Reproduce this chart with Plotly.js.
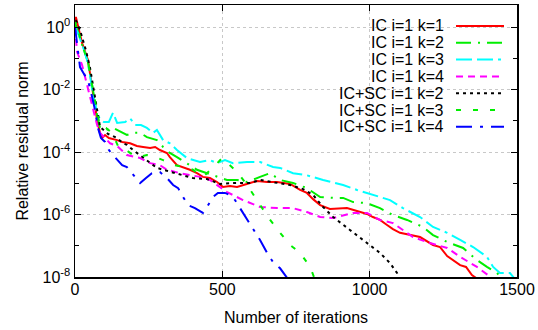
<!DOCTYPE html>
<html>
<head>
<meta charset="utf-8">
<script src="https://cdn.plot.ly/plotly-3.0.1.min.js"></script>
<style>
html,body{margin:0;padding:0;background:#fff;}
#chart{width:538px;height:330px;}
</style>
</head>
<body>
<div id="chart"></div>
<script>
// ---- data ----
const seriesNames = ["IC i=1 k=1","IC i=1 k=2","IC i=1 k=3","IC i=1 k=4","IC+SC i=1 k=2","IC+SC i=1 k=3","IC+SC i=1 k=4"];

const icK1Iter = [0,3,24,44,58,75,85,92,102,115,143,160,187,210,231,255,272,288,312,322,346,367,390,414,434,458,482,502,526,550,570,594,618,652,686,730,764,787,808,832,865,899,923,957,991,1011,1035,1059,1079,1103,1147,1171,1215,1239,1263,1283,1307,1327,1347,1361];
const icK1Val  = [1.0,2.1,0.31,0.088,0.012,1.06e-3,4.1e-4,2.8e-4,3.5e-4,2.8e-4,2.4e-4,2.1e-4,1.9e-4,1.56e-4,1.45e-4,1.34e-4,1.45e-4,1.16e-4,9.3e-5,6.9e-5,3.8e-5,3.3e-5,2.7e-5,2.1e-5,1.6e-5,1.47e-5,1.1e-5,7.6e-6,8.2e-6,7.6e-6,8.8e-6,1.02e-5,1.18e-5,1.1e-5,1.1e-5,9.5e-6,6.1e-6,4.9e-6,3.1e-6,2.0e-6,1.5e-6,1.6e-6,1.6e-6,1.3e-6,1.04e-6,8.3e-7,6.7e-7,4.6e-7,3.4e-7,2.6e-7,2.05e-7,1.9e-7,1.06e-7,9.1e-8,4.7e-8,3.5e-8,2.4e-8,2.1e-8,1.16e-8,9.3e-9];

const icK2Iter = [0,3,24,44,61,75,85,105,129,153,176,197,221,244,278,299,322,346,380,414,448,482,516,550,584,628,662,696,740,787,832,876,910,944,991,1035,1079,1127,1181,1215,1263,1317,1364,1398,1432,1449];
const icK2Val  = [1.0,1.16,0.27,0.076,9.6e-3,1.5e-3,5.9e-4,5.1e-4,5.9e-4,4.4e-4,3.5e-4,4.1e-4,4.1e-4,3.0e-4,2.4e-4,1.45e-4,9.3e-5,6.9e-5,4.4e-5,2.7e-5,2.1e-5,1.6e-5,1.27e-5,1.27e-5,1.1e-5,1.6e-5,2.1e-5,1.27e-5,1.02e-5,7.0e-6,3.6e-6,3.4e-6,3.4e-6,2.5e-6,2.3e-6,1.6e-6,9.6e-7,6.7e-7,4.0e-7,2.2e-7,1.32e-7,8.5e-8,3.5e-8,2.1e-8,1.34e-8,9.3e-9];

const icK3Iter = [0,10,31,41,51,61,75,85,98,115,129,143,170,187,204,224,244,265,278,299,322,346,380,400,424,458,482,509,536,584,628,672,696,740,787,842,910,957,1011,1069,1113,1171,1215,1263,1307,1351,1398,1419,1442,1476,1490];
const icK3Val  = [1.0,0.64,0.18,0.088,0.029,6.7e-3,1.9e-3,1.06e-3,9.1e-4,9.1e-4,1.8e-3,8.5e-4,9.1e-4,1.2e-3,7.3e-4,7.3e-4,5.9e-4,4.1e-4,5.1e-4,2.4e-4,1.9e-4,1.16e-4,6.4e-5,5.5e-5,4.8e-5,5.5e-5,4.4e-5,5.5e-5,4.4e-5,4.8e-5,4.8e-5,3.3e-5,3.1e-5,2.1e-5,1.8e-5,1.27e-5,8.8e-6,6.1e-6,4.2e-6,2.9e-6,1.6e-6,8.3e-7,4.0e-7,2.6e-7,1.53e-7,9.1e-8,4.4e-8,2.1e-8,1.34e-8,1.34e-8,9.3e-9];

const icK4Iter = [0,7,24,37,48,61,75,85,102,119,143,176,221,255,288,312,356,390,424,458,482,516,536,570,628,686,740,787,832,876,944,991,1035,1079,1147,1205,1263,1307,1364,1402,1415];
const icK4Val  = [1.0,0.16,0.061,0.020,8.3e-3,2.6e-3,7.3e-4,4.1e-4,2.8e-4,1.9e-4,1.56e-4,8.0e-5,6.4e-5,4.4e-5,3.8e-5,2.7e-5,2.1e-5,1.8e-5,1.6e-5,1.27e-5,8.8e-6,5.2e-6,4.2e-6,2.9e-6,1.74e-6,1.6e-6,1.6e-6,1.2e-6,8.3e-7,7.7e-7,1.12e-6,1.12e-6,6.7e-7,5.3e-7,1.9e-7,1.22e-7,8.5e-8,4.4e-8,2.1e-8,1.16e-8,9.3e-9];

const scK2Iter = [0,3,17,37,51,64,75,85,112,143,163,176,197,210,244,278,312,346,400,448,492,536,594,628,672,730,774,808,842,876,933,991,1035,1069,1093,1100];
const scK2Val  = [1.0,1.67,0.80,0.18,0.049,9.6e-3,2.2e-3,6.3e-4,3.8e-4,2.8e-4,1.9e-4,1.7e-4,1.16e-4,9.3e-5,5.5e-5,3.1e-5,2.5e-5,2.0e-5,1.47e-5,1.37e-5,9.5e-6,1.02e-5,1.02e-5,1.27e-5,1.1e-5,8.8e-6,6.5e-6,4.2e-6,1.74e-6,8.3e-7,3.2e-7,1.22e-7,5.9e-8,2.8e-8,1.34e-8,9.3e-9];

const scK3Iter = [0,3,24,44,61,75,85,105,126,149,173,197,217,244,272,299,339,380,400,434,468,499,526,550,584,618,655,696,730,764,798,811,818];
const scK3Val  = [1.0,1.45,0.27,0.076,9.6e-3,1.8e-3,6.3e-4,5.9e-4,4.1e-4,1.34e-4,1.16e-4,8.0e-5,6.9e-5,8.0e-5,6.9e-5,5.5e-5,3.8e-5,3.1e-5,2.7e-5,1.6e-5,3.1e-5,6.4e-5,3.8e-5,2.3e-5,8.8e-6,2.9e-6,8.3e-7,2.6e-7,1.06e-7,5.9e-8,2.1e-8,1.0e-8,8.0e-9];

const scK4Iter = [0,7,17,31,44,58,68,78,88,102,115,129,146,160,176,200,221,241,261,288,312,333,350,367,384,407,424,434,448,468,485,509,526,543,560,594,628,652,672,696,720];
const scK4Val  = [1.0,0.31,0.052,0.031,0.020,5.8e-3,2.2e-3,5.9e-4,2.8e-4,2.1e-4,1.16e-4,8.0e-5,5.5e-5,3.8e-5,3.3e-5,1.8e-5,1.02e-5,1.47e-5,2.1e-5,2.3e-5,1.47e-5,8.8e-6,7.0e-6,3.6e-6,2.0e-6,1.6e-6,1.3e-6,1.12e-6,1.74e-6,3.6e-6,4.9e-6,4.9e-6,4.2e-6,2.9e-6,1.6e-6,5.0e-7,1.53e-7,5.9e-8,3.0e-8,1.9e-8,9.3e-9];

const xTickVals = [0,500,1000,1500];
const xTickText = ["0","500","1000","1500"];
const yTickVals = [1e-8,1e-6,1e-4,1e-2,1];
const yTickText = ["10<sup>-8</sup>","10<sup>-6</sup>","10<sup>-4</sup>","10<sup>-2</sup>","10<sup>0</sup>"];
const yMinorVals = [1e-7,1e-5,1e-3,1e-1];

// ---- styles ----
const colors = ["#ff0000","#00ee00","#00ffff","#ff00ff","#000000","#00ee00","#0000ff"];
const dashes = ["solid","15px,7px,2px,7px","16px,5px,16px,5px,3px,5px","7px,5px","3px,4px","5px,12px","16px,8px,3px,8px"];
const xs = [icK1Iter,icK2Iter,icK3Iter,icK4Iter,scK2Iter,scK3Iter,scK4Iter];
const ys = [icK1Val,icK2Val,icK3Val,icK4Val,scK2Val,scK3Val,scK4Val];

const traces = seriesNames.map((n,i)=>({
  type:"scatter", mode:"lines", name:n, x:xs[i], y:ys[i],
  line:{color:colors[i], width:2, dash:dashes[i]},
  showlegend:false, hoverinfo:"skip"
}));

// manual gnuplot-style key: text right-aligned, sample line to the right
const keyTop = 0.9228, keyStep = 0.0618;
const annotations = [], shapes = [];
seriesNames.forEach((n,i)=>{
  const yy = keyTop - i*keyStep;
  annotations.push({xref:"paper",yref:"paper",x:0.8394,y:yy,xanchor:"right",yanchor:"middle",
    text:n,showarrow:false,font:{family:"Liberation Sans, Arial, sans-serif",size:16,color:"#000"}});
  shapes.push({type:"line",xref:"paper",yref:"paper",x0:0.862,x1:0.9706,y0:yy,y1:yy,
    line:{color:colors[i],width:2,dash:dashes[i]}});
});

const font = {family:"Liberation Sans, Arial, sans-serif", size:16, color:"#000"};
const layout = {
  width:538, height:330,
  margin:{l:75, r:21, t:5, b:53},
  paper_bgcolor:"#fff", plot_bgcolor:"#fff",
  font:font,
  xaxis:{
    range:[0,1500], tickvals:xTickVals, ticktext:xTickText,
    ticks:"inside", ticklen:6, tickcolor:"#000", tickwidth:1,
    showline:true, linecolor:"#000", linewidth:1.5, mirror:"ticks",
    showgrid:true, gridcolor:"#c8c8c8", griddash:"dot", gridwidth:1,
    zeroline:false, tickfont:font, ticklabelstandoff:-3,
    title:{text:"Number of iterations", font:font, standoff:15}
  },
  yaxis:{
    type:"log", range:[-8,0.704], tickvals:yTickVals, ticktext:yTickText,
    ticks:"inside", ticklen:6, tickcolor:"#000", tickwidth:1,
    showline:true, linecolor:"#000", linewidth:1.5, mirror:"ticks",
    showgrid:true, gridcolor:"#c8c8c8", griddash:"dot", gridwidth:1,
    zeroline:false, tickfont:font, ticklabelstandoff:0,
    minor:{tickmode:"array", tickvals:yMinorVals, ticks:"inside", ticklen:4, tickcolor:"#000", showgrid:false},
    title:{text:"Relative residual norm", font:font, standoff:10}
  },
  annotations:annotations, shapes:shapes,
  showlegend:false
};

Plotly.newPlot("chart", traces, layout, {staticPlot:true, displayModeBar:false});
</script>
</body>
</html>
